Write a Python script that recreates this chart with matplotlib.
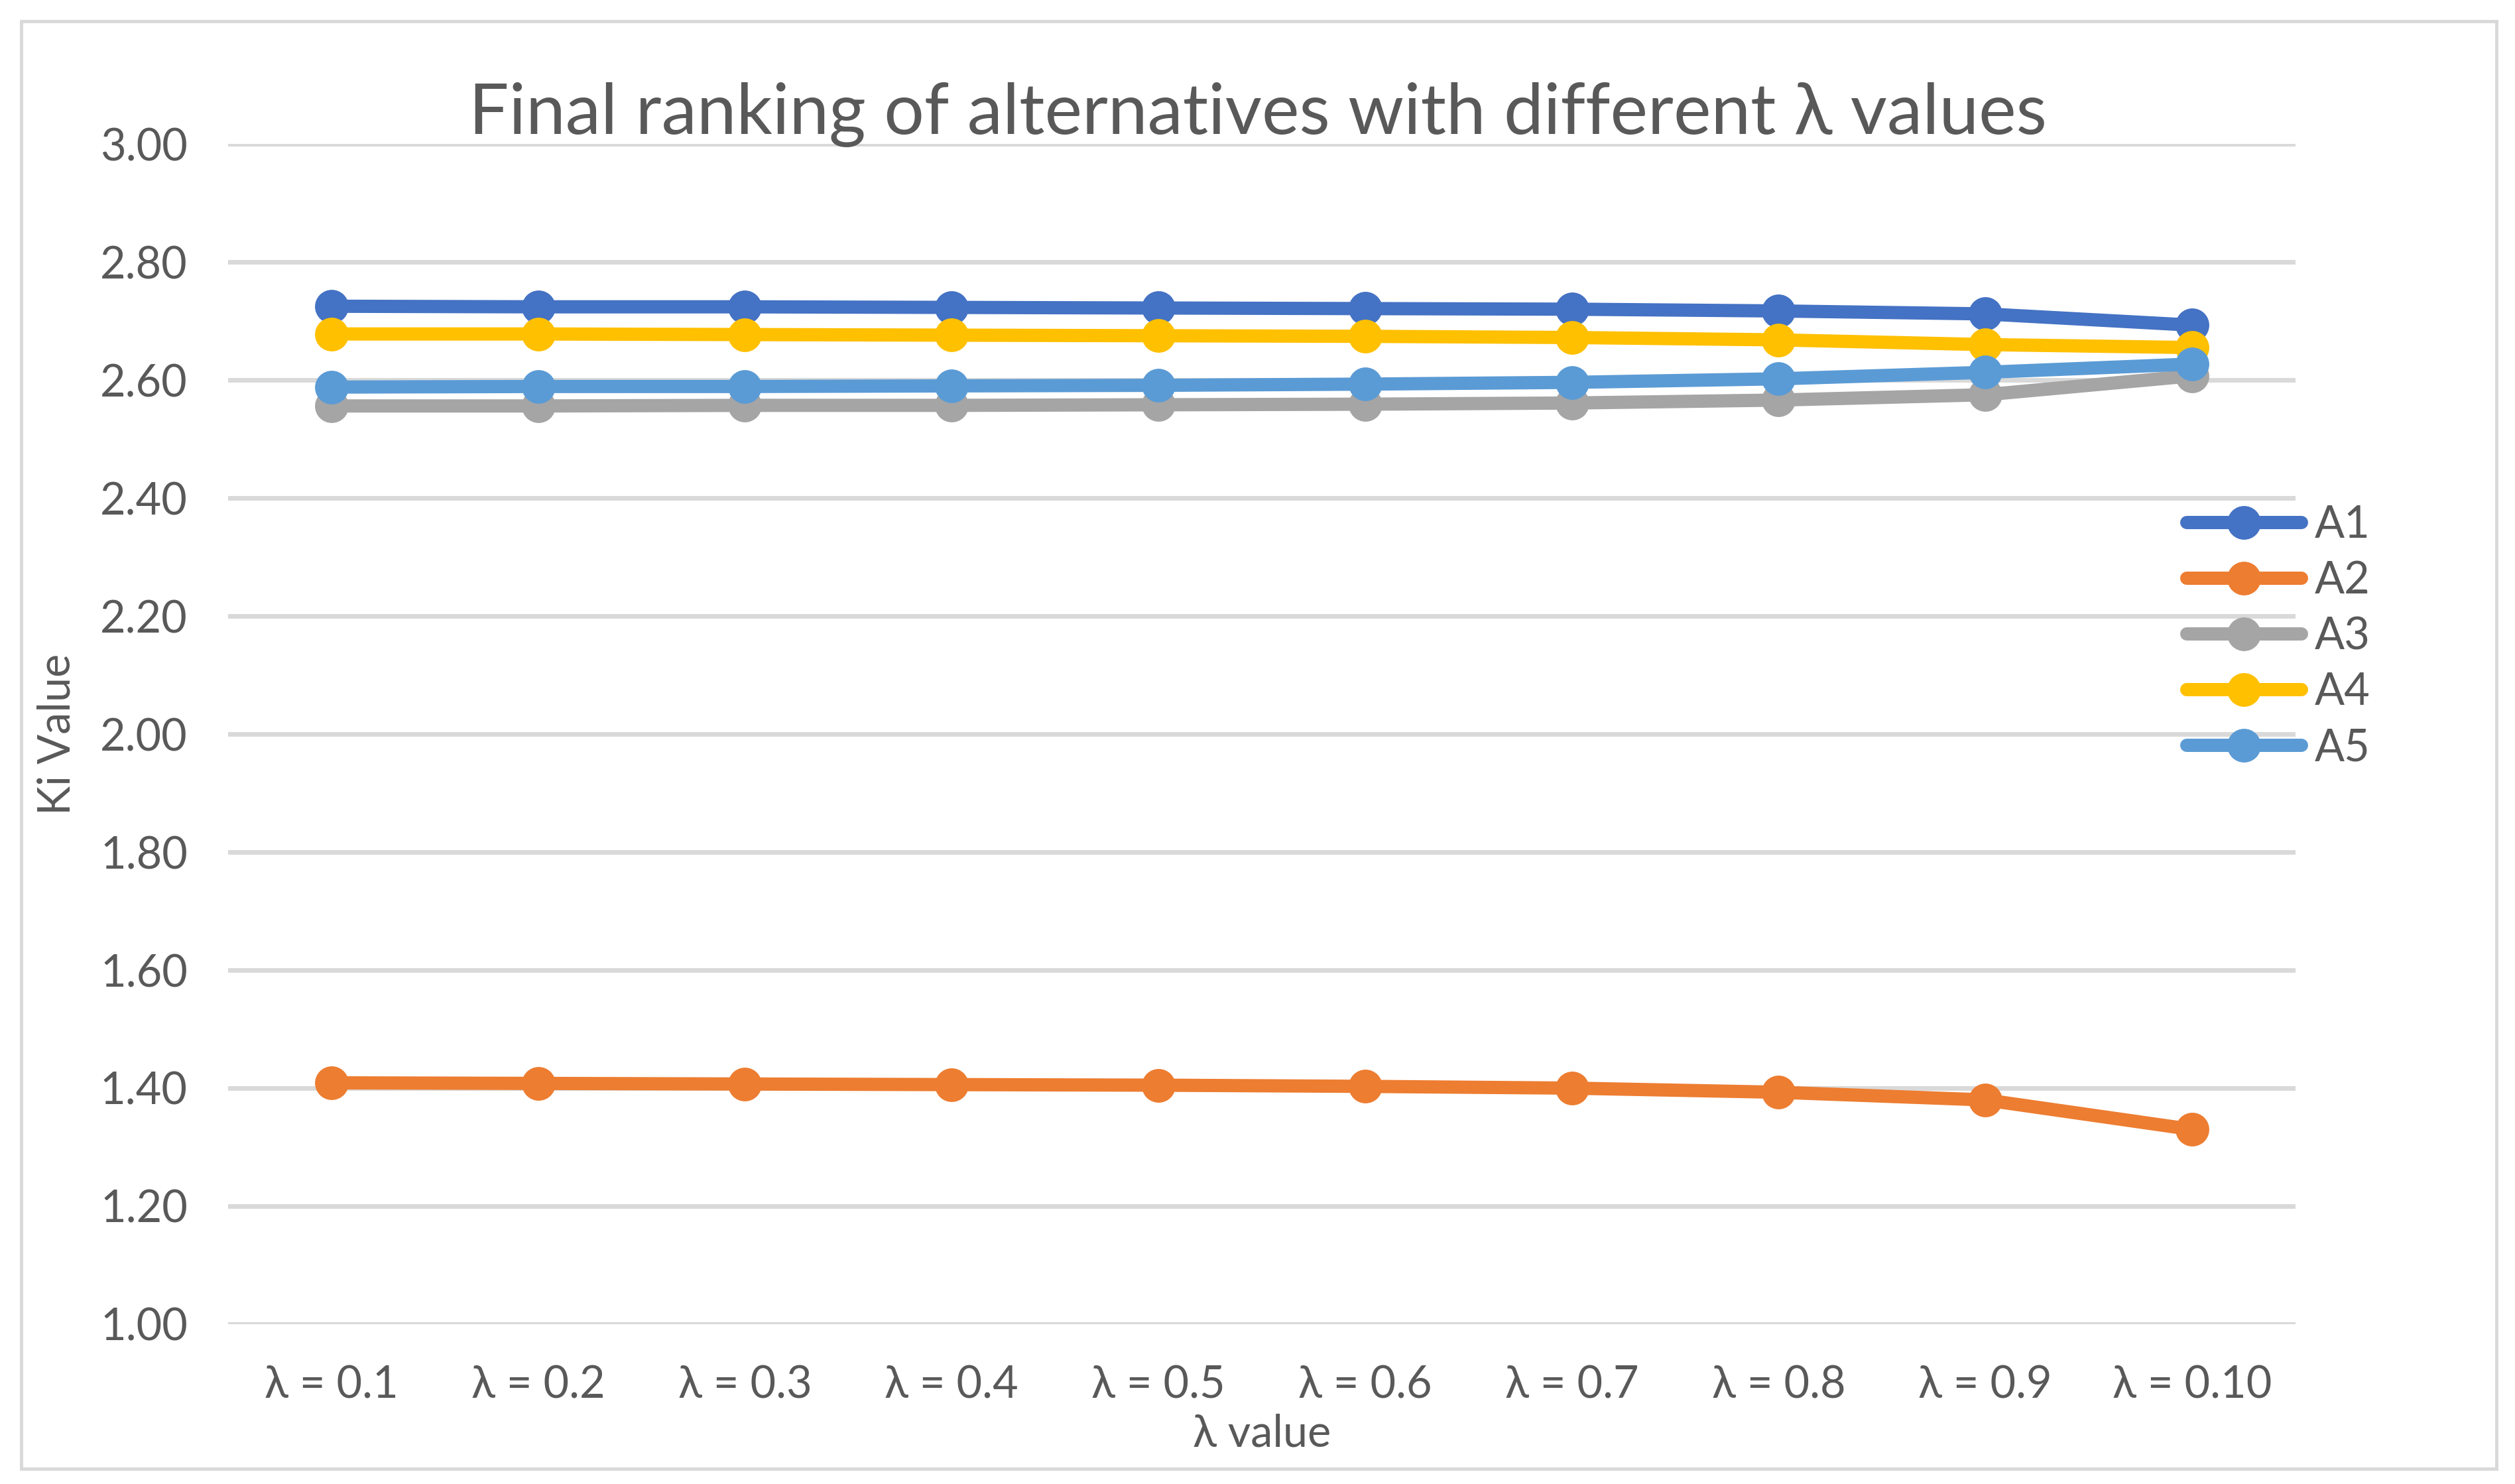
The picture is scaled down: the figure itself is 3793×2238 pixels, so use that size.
import matplotlib
matplotlib.use("Agg")
import matplotlib.pyplot as plt
from matplotlib.patches import Rectangle
from matplotlib.ticker import FormatStrFormatter

plt.rcParams['font.family'] = ['Lato', 'DejaVu Sans']

# categories and values
lambdas = ['λ = 0.1', 'λ = 0.2', 'λ = 0.3', 'λ = 0.4', 'λ = 0.5',
           'λ = 0.6', 'λ = 0.7', 'λ = 0.8', 'λ = 0.9', 'λ = 0.10']
a1 = [2.725, 2.724, 2.724, 2.723, 2.722, 2.721, 2.720, 2.717, 2.712, 2.693]
a2 = [1.409, 1.408, 1.407, 1.406, 1.405, 1.403, 1.400, 1.393, 1.380, 1.330]
a3 = [2.556, 2.556, 2.557, 2.557, 2.558, 2.559, 2.561, 2.566, 2.575, 2.607]
a4 = [2.678, 2.678, 2.677, 2.676, 2.675, 2.674, 2.672, 2.668, 2.660, 2.655]
a5 = [2.588, 2.589, 2.589, 2.590, 2.591, 2.593, 2.596, 2.602, 2.613, 2.627]

series = {'A1': a1, 'A2': a2, 'A3': a3, 'A4': a4, 'A5': a5}
colors = {'A1': '#4472C4', 'A2': '#ED7D31', 'A3': '#A5A5A5',
          'A4': '#FFC000', 'A5': '#5B9BD5'}

text_color = '#595959'
grid_color = '#D9D9D9'

fig = plt.figure(figsize=(18.965, 11.19), dpi=200)
ax = fig.add_axes([0.0907, 0.1077, 0.8220, 0.7953])

x = list(range(len(lambdas)))
for name, vals in series.items():
    ax.plot(x, vals, color=colors[name], linewidth=7.2, marker='o',
            markersize=17.3, label=name, solid_capstyle='round')

ax.set_xlim(-0.5, len(lambdas) - 0.5)
ax.set_ylim(1.0, 3.0)
ax.set_yticks([1.0 + 0.2 * i for i in range(11)])
ax.yaxis.set_major_formatter(FormatStrFormatter('%.2f'))
ax.set_xticks(x)
ax.set_xticklabels(lambdas)

ax.grid(axis='y', color=grid_color, linewidth=2.5)
ax.set_axisbelow(True)
for s in ax.spines.values():
    s.set_visible(False)
ax.tick_params(axis='both', length=0, labelsize=24, colors=text_color)
ax.tick_params(axis='y', pad=22)
ax.tick_params(axis='x', pad=22)

ax.set_xlabel('λ value', fontsize=24, color=text_color, labelpad=4)
ax.set_ylabel('Ki Value', fontsize=24, color=text_color, labelpad=12)

fig.text(0.5, 0.9097, 'Final ranking of alternatives with different λ values',
         ha='center', va='baseline', fontsize=38.5, color=text_color)

leg = ax.legend(loc='center left', bbox_to_anchor=(0.8624, 0.571), bbox_transform=fig.transFigure,
                frameon=False, fontsize=24, handlelength=2.6, handletextpad=0.3,
                labelspacing=0.33, borderaxespad=0)
for t in leg.get_texts():
    t.set_color(text_color)

# chart-area border
fig.patches.append(Rectangle((32 / 3793, 23 / 2238), 3733 / 3793, 2183 / 2238,
                             transform=fig.transFigure, fill=False,
                             edgecolor=grid_color, linewidth=1.8))

fig.savefig('out.png', dpi=200)
